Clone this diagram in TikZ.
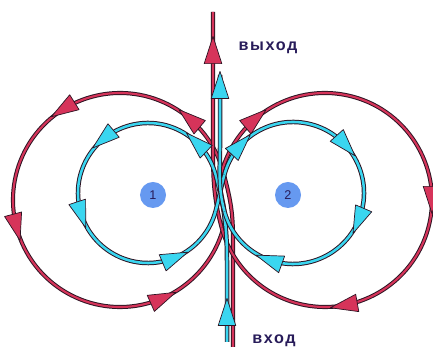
\documentclass[tikz,border=0pt]{standalone}
\usepackage{fontspec}
\newfontfamily\labelfont[LetterSpace=10]{Liberation Sans}
\usepackage{tikz}
\usetikzlibrary{calc}
\usetikzlibrary{decorations.markings}

\definecolor{outline}{RGB}{45,20,35}
\definecolor{flowred}{RGB}{214,52,90}
\definecolor{flowcyan}{RGB}{58,214,240}
\definecolor{badgeblue}{RGB}{102,153,240}
\definecolor{textnavy}{RGB}{40,28,90}

\tikzset{
    redhead/.style={fill=flowred, draw=outline, line width=0.5pt, line join=round},
    cyanhead/.style={fill=flowcyan, draw=outline, line width=0.5pt, line join=round},
    redline/.style={draw=flowred, line width=1.5pt, preaction={draw=outline, line width=2.9pt}},
    cyanline/.style={draw=flowcyan, line width=1.8pt, preaction={draw=outline, line width=3.2pt}},
    redat/.style={postaction={decorate, decoration={markings, mark=at position #1 with {\draw[redhead] (0.34cm,0) -- (-0.34cm,0.22cm) -- (-0.34cm,-0.22cm) -- cycle;}}}},
    cyanat/.style={postaction={decorate, decoration={markings, mark=at position #1 with {\draw[cyanhead] (0.34cm,0) -- (-0.34cm,0.22cm) -- (-0.34cm,-0.22cm) -- cycle;}}}},
    badge/.style={circle, fill=badgeblue, minimum size=0.65cm, inner sep=0pt, text=textnavy, font=\labelfont\fontsize{9}{9}\selectfont},
    flowlabel/.style={text=textnavy, font=\labelfont\bfseries\fontsize{11.5}{11.5}\selectfont}
}

\begin{document}
\begin{tikzpicture}[x=0.025cm, y=0.025cm]
    \useasboundingbox (0,0) rectangle (433,347);

    % centres
    \coordinate (redL) at (120,147);
    \coordinate (redR) at (325,147);
    \coordinate (cyanL) at (148,154);
    \coordinate (cyanR) at (293,154);

    % ends
    \coordinate (redin) at (233,0);
    \coordinate (redout) at (213,335);
    \coordinate (cyanin) at (227,5);
    \coordinate (cyanout) at (220,272);

    % joints
    \coordinate (rA) at ($(redL)+(15:107)$);
    \coordinate (rB) at ($(redL)+(345:107)$);
    \coordinate (rC) at ($(redR)+(165:107)$);
    \coordinate (rD) at ($(redR)+(195:107)$);
    \coordinate (cA) at ($(cyanL)+(15:70)$);
    \coordinate (cB) at ($(cyanL)+(345:70)$);
    \coordinate (cC) at ($(cyanR)+(165:71)$);
    \coordinate (cD) at ($(cyanR)+(195:71)$);

    % red
    \draw[redline] (redin) -- (233,110) to[out=90, in=285] (rA);
    \draw[redline, redat/.list={0.105,0.325,0.545,0.845}] (rA) arc[start angle=15, end angle=345, radius=107];
    \draw[redline] (rB) to[out=75, in=255] (rC);
    \draw[redline, redat/.list={0.105,0.5,0.742}] (rC) arc[start angle=165, end angle=-165, radius=107];
    \draw[redline, redat=-0.95cm] (rD) to[out=105, in=270] (213,210) -- (redout);

    % cyan
    \draw[cyanline, cyanat=0.75cm] (cyanin) -- (227,85) to[out=90, in=285] (cA);
    \draw[cyanline, cyanat/.list={0.095,0.348,0.555,0.842}] (cA) arc[start angle=15, end angle=345, radius=70];
    \draw[cyanline] (cB) to[out=75, in=255] (cC);
    \draw[cyanline, cyanat/.list={0.085,0.373,0.57,0.833}] (cC) arc[start angle=165, end angle=-165, radius=71];
    \draw[cyanline, cyanat=-0.25cm] (cD) to[out=105, in=270] (220,200) -- (cyanout);

    \node[badge] (one) at (153,152) {1};
    \node[badge] (two) at (288,152) {2};

    \node[flowlabel] (exit) at (268,299) {выход};
    \node[flowlabel] (entry) at (274,6) {вход};
\end{tikzpicture}
\end{document}
